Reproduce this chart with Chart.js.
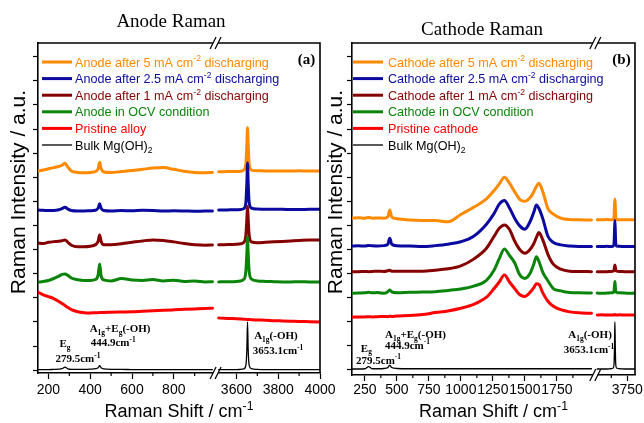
<!DOCTYPE html>
<html>
<head>
<meta charset="utf-8">
<title>Anode / Cathode Raman</title>
<script src="https://cdn.jsdelivr.net/npm/chart.js@4.4.1/dist/chart.umd.min.js"></script>
<style>
  body { margin: 0; background: #fff; }
  #anodeChart { position: absolute; left: 0; top: 0; }
  #cathodeChart { position: absolute; left: 322px; top: 0; }
</style>
</head>
<body>
<canvas id="anodeChart" width="340" height="423"></canvas>
<canvas id="cathodeChart" width="322" height="423"></canvas>
<script>
const sans = '"Liberation Sans", Arial, sans-serif'
const serif = '"Liberation Serif", "Times New Roman", serif'

// order: 5 mA, 2.5 mA, 1 mA, OCV, pristine, bulk Mg(OH)2
const seriesColors = ['#ff8a00', '#0a0aa0', '#850000', '#0a840a', '#ff0000', '#000000']
const lineWidths = [3, 3, 3, 3, 3, 1.3]
const legendWidths = [3, 3, 3, 3, 3, 1.3]

const intensityTicks = [0, 1, 2, 3, 4, 5, 6, 7, 8, 9, 10, 11, 12, 13]

// ---------- anode ----------
const anodeNames = ['Anode after 5 mA cm^{-2} discharging', 'Anode after 2.5 mA cm^{-2} discharging',
  'Anode after 1 mA cm^{-2} discharging', 'Anode in OCV condition', 'Pristine alloy', 'Bulk Mg(OH)_{2}']

const anodeShiftLow = [150, 175, 200, 225, 250, 265, 279, 293, 310, 340, 370, 400, 425, 438, 445, 452, 465, 500, 550, 600, 650, 700, 750, 800, 850, 900, 950, 985]
const anodeShiftHigh = [3515, 3540, 3570, 3600, 3620, 3635, 3645, 3650, 3653, 3656, 3661, 3672, 3700, 3740, 3780, 3820, 3860, 3900, 3950, 4000]

const anode5Low = [8.26, 8.3, 8.35, 8.4, 8.45, 8.5, 8.58, 8.42, 8.26, 8.2, 8.19, 8.2, 8.24, 8.35, 8.62, 8.36, 8.22, 8.2, 8.24, 8.28, 8.33, 8.38, 8.4, 8.33, 8.25, 8.2, 8.19, 8.2]
const anode25Low = [6.64, 6.63, 6.62, 6.62, 6.65, 6.7, 6.76, 6.68, 6.62, 6.6, 6.6, 6.61, 6.63, 6.72, 6.9, 6.72, 6.62, 6.6, 6.62, 6.61, 6.63, 6.62, 6.6, 6.61, 6.6, 6.59, 6.6, 6.6]
const anode1Low = [5.27, 5.25, 5.3, 5.33, 5.35, 5.37, 5.4, 5.3, 5.18, 5.12, 5.12, 5.14, 5.2, 5.35, 5.6, 5.35, 5.2, 5.2, 5.24, 5.3, 5.36, 5.4, 5.38, 5.32, 5.25, 5.2, 5.18, 5.19]
const anodeOcvLow = [3.65, 3.68, 3.72, 3.8, 3.9, 3.97, 3.99, 3.93, 3.82, 3.75, 3.72, 3.72, 3.76, 3.95, 4.4, 3.92, 3.74, 3.7, 3.8, 3.74, 3.72, 3.76, 3.7, 3.73, 3.68, 3.7, 3.66, 3.67]
const alloyLow = [3.24, 3.12, 3.05, 2.97, 2.85, 2.76, 2.68, 2.6, 2.51, 2.42, 2.38, 2.37, 2.38, 2.38, 2.39, 2.39, 2.39, 2.4, 2.41, 2.42, 2.44, 2.46, 2.48, 2.5, 2.52, 2.54, 2.56, 2.57]
const bulkLow = [0.02, 0.02, 0.02, 0.03, 0.04, 0.06, 0.12, 0.05, 0.03, 0.03, 0.03, 0.04, 0.06, 0.1, 0.18, 0.1, 0.05, 0.03, 0.03, 0.02, 0.02, 0.02, 0.02, 0.02, 0.02, 0.02, 0.02, 0.02]

const anode5High = [8.23, 8.23, 8.24, 8.24, 8.25, 8.3, 8.55, 9.4, 10.05, 9.4, 8.55, 8.3, 8.27, 8.26, 8.26, 8.26, 8.26, 8.27, 8.26, 8.26]
const anode25High = [6.64, 6.64, 6.65, 6.65, 6.66, 6.7, 6.95, 7.8, 8.59, 7.8, 6.95, 6.72, 6.68, 6.67, 6.67, 6.67, 6.66, 6.66, 6.67, 6.67]
const anode1High = [5.2, 5.2, 5.21, 5.22, 5.24, 5.3, 5.6, 6.3, 6.8, 6.3, 5.6, 5.32, 5.28, 5.3, 5.32, 5.34, 5.36, 5.38, 5.4, 5.4]
const anodeOcvHigh = [3.66, 3.67, 3.67, 3.68, 3.7, 3.76, 4.1, 4.9, 5.52, 4.9, 4.1, 3.78, 3.7, 3.68, 3.67, 3.66, 3.66, 3.67, 3.66, 3.66]
const alloyHigh = [2.16, 2.15, 2.14, 2.13, 2.12, 2.11, 2.11, 2.1, 2.1, 2.1, 2.1, 2.09, 2.08, 2.07, 2.05, 2.04, 2.03, 2.02, 2.01, 2.0]
const bulkHigh = [0.02, 0.02, 0.02, 0.02, 0.03, 0.05, 0.2, 0.9, 2.0, 0.9, 0.2, 0.06, 0.03, 0.02, 0.02, 0.02, 0.02, 0.02, 0.02, 0.02]

const anodeTicksLow = [200, 400, 600, 800]
const anodeMinorLow = [300, 500, 700, 900]
const anodeTicksHigh = [3600, 3800, 4000]
const anodeMinorHigh = [3700, 3900]

const anodeNotes = [
  { axis: 'low', x: 279.5, y: 1.12, text: 'E_{g}' },
  { axis: 'low', x: 341, y: 0.5, text: '279.5cm^{-1}' },
  { axis: 'low', x: 543, y: 1.74, text: 'A_{1g}+E_{g}(-OH)' },
  { axis: 'low', x: 510, y: 1.16, text: '444.9cm^{-1}' },
  { axis: 'high', x: 3789, y: 1.45, text: 'A_{1g}(-OH)' },
  { axis: 'high', x: 3799, y: 0.83, text: '3653.1cm^{-1}' }
]

// ---------- cathode ----------
const cathodeNames = ['Cathode after 5 mA cm^{-2} discharging', 'Cathode after 2.5 mA cm^{-2} discharging',
  'Cathode after 1 mA cm^{-2} discharging', 'Cathode in OCV condition', 'Pristine cathode', 'Bulk Mg(OH)_{2}']

const cathodeShiftLow = [150, 200, 250, 279, 310, 350, 400, 430, 445, 460, 500, 600, 700, 800, 900, 1000, 1100, 1200, 1260, 1300, 1340, 1380, 1420, 1460, 1500, 1540, 1570, 1590, 1610, 1640, 1680, 1720, 1780, 1850, 1920, 2020]
const cathodeShiftHigh = [3515, 3550, 3590, 3620, 3640, 3647, 3650, 3653, 3656, 3659, 3666, 3690, 3730, 3770, 3805]

const cathode5Low = [6.3, 6.32, 6.3, 6.33, 6.3, 6.31, 6.3, 6.36, 6.64, 6.35, 6.28, 6.22, 6.2, 6.2, 6.15, 6.45, 6.75, 7.1, 7.45, 7.72, 8.0, 7.75, 7.4, 7.08, 7.0, 7.15, 7.4, 7.62, 7.75, 7.4, 6.7, 6.48, 6.3, 6.24, 6.23, 6.22]
const cathode25Low = [5.14, 5.15, 5.14, 5.17, 5.15, 5.14, 5.16, 5.22, 5.47, 5.22, 5.15, 5.14, 5.12, 5.16, 5.22, 5.32, 5.55, 6.05, 6.5, 6.88, 7.03, 6.72, 6.3, 5.98, 5.84, 6.15, 6.55, 6.85, 6.7, 6.28, 5.55, 5.3, 5.19, 5.14, 5.12, 5.12]
const cathode1Low = [4.08, 4.08, 4.09, 4.08, 4.09, 4.1, 4.09, 4.12, 4.14, 4.1, 4.1, 4.1, 4.1, 4.14, 4.2, 4.32, 4.6, 5.05, 5.55, 5.88, 6.02, 5.83, 5.35, 5.0, 4.84, 5.0, 5.25, 5.5, 5.7, 5.4, 4.8, 4.4, 4.18, 4.1, 4.09, 4.08]
const cathodeOcvLow = [3.18, 3.19, 3.2, 3.22, 3.2, 3.21, 3.18, 3.25, 3.32, 3.24, 3.2, 3.22, 3.23, 3.25, 3.3, 3.36, 3.48, 3.72, 4.15, 4.62, 5.02, 4.75, 4.45, 3.95, 3.8, 4.0, 4.4, 4.7, 4.5, 4.05, 3.7, 3.39, 3.28, 3.21, 3.2, 3.19]
const pristineLow = [2.19, 2.2, 2.2, 2.21, 2.2, 2.21, 2.22, 2.21, 2.23, 2.22, 2.24, 2.26, 2.3, 2.38, 2.45, 2.56, 2.72, 3.02, 3.38, 3.65, 3.94, 3.65, 3.38, 3.12, 3.05, 3.22, 3.42, 3.58, 3.55, 3.2, 2.85, 2.65, 2.5, 2.41, 2.37, 2.35]
const cathodeBulkLow = [0.04, 0.04, 0.05, 0.14, 0.05, 0.05, 0.06, 0.1, 0.2, 0.1, 0.06, 0.05, 0.05, 0.05, 0.05, 0.05, 0.05, 0.05, 0.05, 0.05, 0.05, 0.05, 0.05, 0.05, 0.05, 0.05, 0.05, 0.05, 0.05, 0.05, 0.05, 0.05, 0.05, 0.05, 0.05, 0.05]

const cathode5High = [6.23, 6.23, 6.24, 6.23, 6.24, 6.4, 6.85, 7.1, 6.85, 6.4, 6.24, 6.23, 6.23, 6.23, 6.23]
const cathode25High = [5.12, 5.12, 5.13, 5.12, 5.14, 5.3, 5.8, 6.2, 5.8, 5.3, 5.14, 5.13, 5.12, 5.12, 5.12]
const cathode1High = [4.08, 4.08, 4.08, 4.09, 4.1, 4.18, 4.28, 4.36, 4.28, 4.18, 4.1, 4.09, 4.08, 4.08, 4.08]
const cathodeOcvHigh = [3.19, 3.18, 3.19, 3.2, 3.22, 3.3, 3.5, 3.67, 3.5, 3.3, 3.22, 3.2, 3.19, 3.18, 3.19]
const pristineHigh = [2.28, 2.29, 2.28, 2.28, 2.28, 2.29, 2.3, 2.3, 2.29, 2.28, 2.28, 2.29, 2.28, 2.28, 2.28]
const cathodeBulkHigh = [0.04, 0.04, 0.04, 0.05, 0.08, 0.3, 1.0, 2.0, 1.0, 0.3, 0.08, 0.05, 0.04, 0.04, 0.04]

const cathodeTicksLow = [250, 500, 750, 1000, 1250, 1500, 1750]
const cathodeMinorLow = [375, 625, 875, 1125, 1375, 1625, 1875]
const cathodeTicksHigh = [3750]
const cathodeMinorHigh = [3625]

const cathodeNotes = [
  { axis: 'low', x: 262, y: 0.93, text: 'E_{g}' },
  { axis: 'low', x: 357, y: 0.42, text: '279.5cm^{-1}' },
  { axis: 'low', x: 646, y: 1.49, text: 'A_{1g}+E_{g}(-OH)' },
  { axis: 'low', x: 583, y: 1.04, text: '444.9cm^{-1}' },
  { axis: 'low', x: 2009, y: 1.49, text: 'A_{1g}(-OH)' },
  { axis: 'low', x: 2001, y: 0.87, text: '3653.1cm^{-1}' }
]

// text with ^{sup} and _{sub}
function richParts(str) {
  const parts = []
  const re = /([\^_])\{([^}]*)\}/g
  let last = 0, m
  while ((m = re.exec(str))) {
    if (m.index > last) parts.push({ t: str.slice(last, m.index), k: 'n' })
    parts.push({ t: m[2], k: m[1] === '^' ? 'sup' : 'sub' })
    last = re.lastIndex
  }
  if (last < str.length) parts.push({ t: str.slice(last), k: 'n' })
  return parts
}

function drawRich(ctx, str, x, y, size, weight, family, align) {
  const parts = richParts(str)
  const small = size * 0.68
  const fontFor = k => weight + ' ' + (k === 'n' ? size : small) + 'px ' + family
  let w = 0
  parts.forEach(p => { ctx.font = fontFor(p.k); p.w = ctx.measureText(p.t).width; w += p.w })
  let cx = align === 'center' ? x - w / 2 : x
  ctx.textAlign = 'left'
  ctx.textBaseline = 'alphabetic'
  parts.forEach(p => {
    ctx.font = fontFor(p.k)
    const dy = p.k === 'sup' ? -size * 0.4 : (p.k === 'sub' ? size * 0.25 : 0)
    ctx.fillText(p.t, cx, y + dy)
    cx += p.w
  })
}

function xScale(range, ticks, p) {
  return {
    type: 'linear',
    position: 'bottom',
    stack: 'shift',
    stackWeight: range[1] - range[0],
    min: range[0],
    max: range[1],
    afterBuildTicks: s => { s.ticks = ticks.map(v => ({ value: v })) },
    afterFit: s => { s.height = p.xAxisHeight; s.paddingLeft = 0; s.paddingRight = 0 },
    grid: { drawOnChartArea: false, color: '#000', tickLength: 6, tickWidth: 1.2 },
    border: { color: '#000', width: 1.6 },
    ticks: { color: '#000', font: { family: sans, size: 14 }, padding: p.tickPad, autoSkip: false, maxRotation: 0, callback: v => String(v) }
  }
}

function makePanel(id, p) {
  const datasets = []
  p.low.forEach((ys, i) => {
    datasets.push({
      label: p.names[i].replace(/[\^_]\{([^}]*)\}/g, '$1'),
      xAxisID: 'xLow',
      data: p.shiftLow.map((x, k) => ({ x: x, y: ys[k] })),
      borderColor: seriesColors[i],
      borderWidth: lineWidths[i],
      order: 6 - i
    })
  })
  p.high.forEach((ys, i) => {
    datasets.push({
      label: p.names[i].replace(/[\^_]\{([^}]*)\}/g, '$1'),
      xAxisID: 'xHigh',
      data: p.shiftHigh.map((x, k) => ({ x: x, y: ys[k] })),
      borderColor: seriesColors[i],
      borderWidth: lineWidths[i],
      order: 6 - i
    })
  })

  const decor = {
    id: 'decor',
    afterDraw(chart) {
      const ctx = chart.ctx
      const a = chart.chartArea
      const low = chart.scales.xLow, high = chart.scales.xHigh, y = chart.scales.y
      ctx.save()
      ctx.strokeStyle = '#000'
      ctx.lineWidth = 1.6
      ctx.beginPath()
      ctx.moveTo(a.left, a.top)
      ctx.lineTo(a.right, a.top)
      ctx.lineTo(a.right, a.bottom)
      ctx.stroke()

      // minor ticks
      ctx.lineWidth = 1.2
      ;[[low, p.minorLow], [high, p.minorHigh]].forEach(([s, vals]) => vals.forEach(v => {
        const x = s.getPixelForValue(v)
        ctx.beginPath(); ctx.moveTo(x, a.bottom); ctx.lineTo(x, a.bottom + 3); ctx.stroke()
      }))

      // axis break marks
      const bx = low.right
      ;[a.top, a.bottom].forEach(by => {
        ctx.fillStyle = '#fff'
        ctx.fillRect(bx - 2.5, by - 2, 5, 4)
        ctx.lineWidth = 1.3
        ;[-2.5, 2.5].forEach(off => {
          ctx.beginPath(); ctx.moveTo(bx + off - 3, by + 6); ctx.lineTo(bx + off + 3, by - 6); ctx.stroke()
        })
      })

      ctx.fillStyle = '#000'
      ctx.font = '19px ' + serif
      ctx.textAlign = 'center'
      ctx.textBaseline = 'alphabetic'
      ctx.fillText(p.title, p.titlePos[0], p.titlePos[1])
      ctx.font = 'bold 15px ' + serif
      ctx.fillText(p.tag, a.right - 13.5, a.top + 21)

      ctx.save()
      ctx.translate(p.yTitlePos[0], p.yTitlePos[1])
      ctx.rotate(-Math.PI / 2)
      ctx.font = '21px ' + sans
      ctx.textBaseline = 'middle'
      ctx.fillText('Raman Intensity / a.u.', 0, 0)
      ctx.restore()

      drawRich(ctx, 'Raman Shift / cm^{-1}', (a.left + a.right) / 2, p.xTitleY, 18, 'normal', sans, 'center')

      // legend
      p.names.forEach((name, i) => {
        const ly = a.top + 19 + i * 16.6
        ctx.strokeStyle = seriesColors[i]
        ctx.lineWidth = legendWidths[i]
        ctx.beginPath(); ctx.moveTo(a.left + p.legendX[0], ly); ctx.lineTo(a.left + p.legendX[1], ly); ctx.stroke()
        ctx.fillStyle = seriesColors[i]
        drawRich(ctx, name, a.left + p.legendX[2], ly + 4.5, 12.6, 'normal', sans, 'left')
      })

      // peak notes
      ctx.fillStyle = '#000'
      p.notes.forEach(n => {
        const s = n.axis === 'low' ? low : high
        drawRich(ctx, n.text, s.getPixelForValue(n.x), y.getPixelForValue(n.y) + 4, 11, 'bold', serif, 'center')
      })
      ctx.restore()
    }
  }

  return new Chart(document.getElementById(id), {
    type: 'line',
    data: { datasets: datasets },
    options: {
      responsive: false,
      devicePixelRatio: 1,
      animation: false,
      events: [],
      layout: { autoPadding: false, padding: { top: 43, right: p.padRight, left: 0, bottom: 0 } },
      elements: {
        point: { radius: 0 },
        line: { cubicInterpolationMode: 'monotone', borderJoinStyle: 'round', borderCapStyle: 'round' }
      },
      plugins: { legend: { display: false }, tooltip: { enabled: false } },
      scales: {
        xLow: xScale(p.lowRange, p.ticksLow, p),
        xHigh: xScale(p.highRange, p.ticksHigh, p),
        y: {
          type: 'linear',
          position: 'left',
          min: p.yMin,
          max: 13.57,
          afterBuildTicks: s => { s.ticks = intensityTicks.map(v => ({ value: v })) },
          afterFit: s => { s.width = p.yAxisWidth },
          grid: { drawOnChartArea: false, color: '#000', tickLength: 5, tickWidth: 1.2 },
          border: { color: '#000', width: 1.6 },
          ticks: { display: false }
        }
      }
    },
    plugins: [decor]
  })
}

makePanel('anodeChart', {
  names: anodeNames,
  shiftLow: anodeShiftLow,
  shiftHigh: anodeShiftHigh,
  low: [anode5Low, anode25Low, anode1Low, anodeOcvLow, alloyLow, bulkLow],
  high: [anode5High, anode25High, anode1High, anodeOcvHigh, alloyHigh, bulkHigh],
  lowRange: [150, 1000],
  highRange: [3500, 4000],
  ticksLow: anodeTicksLow,
  minorLow: anodeMinorLow,
  ticksHigh: anodeTicksHigh,
  minorHigh: anodeMinorHigh,
  yMin: -0.12,
  padRight: 20,
  yAxisWidth: 38,
  xAxisHeight: 50,
  tickPad: 3,
  title: 'Anode Raman',
  titlePos: [171, 27],
  tag: '(a)',
  yTitlePos: [19, 192],
  xTitleY: 417,
  legendX: [4, 34, 37],
  notes: anodeNotes
})

makePanel('cathodeChart', {
  names: cathodeNames,
  shiftLow: cathodeShiftLow,
  shiftHigh: cathodeShiftHigh,
  low: [cathode5Low, cathode25Low, cathode1Low, cathodeOcvLow, pristineLow, cathodeBulkLow],
  high: [cathode5High, cathode25High, cathode1High, cathodeOcvHigh, pristineHigh, cathodeBulkHigh],
  lowRange: [150, 2050],
  highRange: [3500, 3810],
  ticksLow: cathodeTicksLow,
  minorLow: cathodeMinorLow,
  ticksHigh: cathodeTicksHigh,
  minorHigh: cathodeMinorHigh,
  yMin: -0.21,
  padRight: 9,
  yAxisWidth: 30,
  xAxisHeight: 48,
  tickPad: 1,
  title: 'Cathode Raman',
  titlePos: [160, 35],
  tag: '(b)',
  yTitlePos: [14, 192],
  xTitleY: 417,
  legendX: [1, 31, 36],
  notes: cathodeNotes
})
</script>
</body>
</html>
